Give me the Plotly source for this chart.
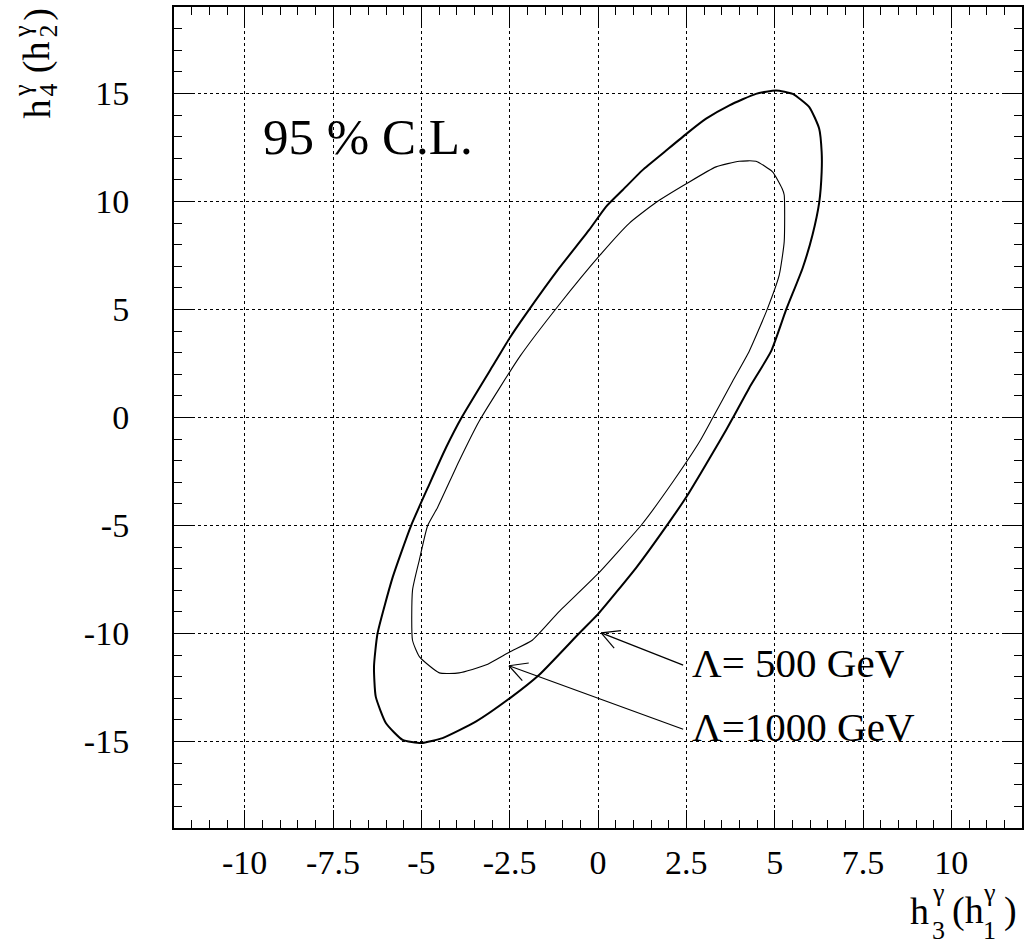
import numpy as np
import plotly.graph_objects as go

# ---------------- data ----------------
outer_x = [5.04, 4.47, 3.72, 3.06, 2.51, 1.88, 1.26, 0.70, 0.23, -0.25, -1.1, -2.05, -2.5, -2.9,
           -3.86, -4.30, -4.77, -5.29, -5.81, -6.24, -6.34, -6.29, -6.0, -5.53, -5.0, -4.4,
           -3.46, -2.5, -1.67, -0.54, 0.0, 1.1, 2.05, 2.5, 2.9, 3.45, 3.81, 4.28, 4.90,
           5.32, 5.79, 6.07, 6.26, 6.33, 6.33, 6.26, 5.98, 5.51, 5.04]
outer_y = [15.14, 14.98, 14.45, 13.83, 13.14, 12.29, 11.45, 10.53, 9.76, 8.68, 6.91, 4.76, 3.68, 2.6,
           0.0, -1.39, -3.08, -5.0, -7.39, -10.0, -11.54, -12.92, -14.15, -14.92, -15.07, -14.84,
           -14.08, -13.0, -11.92, -10.0, -9.1, -6.91, -4.76, -3.68, -2.6, -1.08, -0.04, 1.37, 3.07,
           4.97, 6.91, 8.45, 9.95, 11.37, 12.29, 13.37, 14.37, 14.98, 15.14]

inner_x = [4.47, 4.0, 3.34, 2.51, 1.64, 0.89, 0.1, -1.1, -2.2, -3.36, -3.93, -4.54,
           -4.82, -5.06, -5.25, -5.25, -5.05, -4.49, -3.93, -3.18, -2.5, -1.86, -1.11, 0.0,
           1.25, 2.14, 2.89, 3.24, 3.81, 4.28, 4.78, 5.13, 5.27, 5.27, 5.21, 4.94, 4.47]
inner_y = [11.86, 11.86, 11.6, 10.83, 9.95, 9.0, 7.6, 5.22, 2.85, -0.16, -2.01, -4.16,
           -5.0, -6.62, -8.0, -10.31, -11.08, -11.82, -11.82, -11.46, -10.85, -10.31, -9.0, -7.23,
           -4.93, -2.93, -1.08, -0.04, 1.68, 3.07, 4.97, 6.6, 8.14, 10.30, 10.6, 11.37, 11.86]

x_tickvals = [-10, -7.5, -5, -2.5, 0, 2.5, 5, 7.5, 10]
x_ticktext = ["-10", "-7.5", "-5", "-2.5", "0", "2.5", "5", "7.5", "10"]
y_tickvals = [-15, -10, -5, 0, 5, 10, 15]
y_ticktext = ["-15", "-10", "-5", "0", "5", "10", "15"]

cl_text = "95 % C.L."
cl_x, cl_y = -9.54, 12.98

label_text = ["Λ= 500 GeV", "Λ=1000 GeV"]
label_x = [2.6, 2.6]
label_y = [-11.37, -14.33]
arrow_tip_x = [0.09, -2.52]
arrow_tip_y = [-9.97, -11.49]
arrow_tail_x = [2.41, 2.41]
arrow_tail_y = [-11.46, -14.43]

# ---------------- layout geometry ----------------
W, H = 1029, 944
ML, MR, MT, MB = 174, 6, 5, 116
XR = [-12, 12]
YR = [-19, 19]
PW = W - ML - MR
PH = H - MT - MB
ppx = PW / (XR[1] - XR[0])
ppy = PH / (YR[1] - YR[0])

FONT = "Liberation Serif, Times New Roman, serif"

fig = go.Figure()
fig.add_trace(go.Scatter(x=outer_x, y=outer_y, mode="lines",
                         line=dict(color="black", width=2, shape="spline", smoothing=0.5),
                         hoverinfo="skip", showlegend=False))
fig.add_trace(go.Scatter(x=inner_x, y=inner_y, mode="lines",
                         line=dict(color="black", width=1.1, shape="spline", smoothing=0.5),
                         hoverinfo="skip", showlegend=False))

shapes = []
for tx, ty, sx, sy in zip(arrow_tip_x, arrow_tip_y, arrow_tail_x, arrow_tail_y):
    shapes.append(dict(type="line", xref="x", yref="y", x0=tx, y0=ty, x1=sx, y1=sy,
                       line=dict(color="black", width=1.2)))
    # V head computed in pixel space
    dxp = (sx - tx) * ppx
    dyp = (sy - ty) * ppy
    ang = np.arctan2(dyp, dxp)
    for s in (+1, -1):
        a = ang + s * np.radians(28)
        ex = tx + 20 * np.cos(a) / ppx
        ey = ty + 20 * np.sin(a) / ppy
        shapes.append(dict(type="line", xref="x", yref="y", x0=tx, y0=ty, x1=ex, y1=ey,
                           line=dict(color="black", width=1.2)))

annotations = [dict(x=cl_x, y=cl_y, xref="x", yref="y", text=cl_text, showarrow=False,
                    xanchor="left", yanchor="middle", font=dict(family=FONT, size=51, color="black"))]
for t, lx, ly in zip(label_text, label_x, label_y):
    annotations.append(dict(x=lx, y=ly, xref="x", yref="y", text=t, showarrow=False,
                            xanchor="left", yanchor="middle",
                            font=dict(family=FONT, size=41, color="black")))


def pxx(p):
    return (p - ML) / PW


def pxy(p):
    return (H - MB - p) / PH


def piece(text, cx, cy, size, angle=0):
    annotations.append(dict(x=pxx(cx), y=pxy(cy), xref="paper", yref="paper", text=text,
                            showarrow=False, xanchor="center", yanchor="middle",
                            textangle=angle, font=dict(family=FONT, size=size, color="black")))


# x axis title  h_3^γ (h_1^γ)
piece("h", 920.8, 911, 38)
piece("3", 939, 931, 26)
piece("γ", 939, 893, 26)
piece("(h", 969, 911, 38)
piece("1", 990.5, 931, 26)
piece("γ", 990.5, 893, 26)
piece(")", 1011, 911, 38)

# y axis title  h_4^γ (h_2^γ)  rotated
piece("h", 37.2, 107.5, 38, -90)
piece("4", 48, 88.5, 26, -90)
piece("γ", 22.5, 88.5, 26, -90)
piece("(h", 37.2, 55, 38, -90)
piece("2", 48, 29.5, 26, -90)
piece("γ", 22.5, 29.5, 26, -90)
piece(")", 37.2, 12.5, 38, -90)

axis_common = dict(showline=True, linewidth=2, linecolor="black", mirror="ticks",
                   ticks="inside", tickwidth=1.2, tickcolor="black", ticklen=18,
                   showgrid=True, gridcolor="black", griddash="dot", gridwidth=1,
                   zeroline=False, tickfont=dict(family=FONT, size=34, color="black"))

fig.update_layout(
    width=W, height=H,
    margin=dict(l=ML, r=MR, t=MT, b=MB, pad=0),
    paper_bgcolor="white", plot_bgcolor="white",
    xaxis=dict(range=XR, tickmode="array", tickvals=x_tickvals, ticktext=x_ticktext,
               ticklabelstandoff=3,
               minor=dict(dtick=0.5, tick0=0, ticks="inside", ticklen=8, tickwidth=1.2,
                          tickcolor="black", showgrid=False),
               **axis_common),
    yaxis=dict(range=YR, tickmode="array", tickvals=y_tickvals, ticktext=y_ticktext,
               ticklabelstandoff=36,
               minor=dict(dtick=1, tick0=0, ticks="inside", ticklen=8, tickwidth=1.2,
                          tickcolor="black", showgrid=False),
               **axis_common),
    shapes=shapes,
    annotations=annotations,
    showlegend=False,
)

fig.write_html("out.html", config={"displayModeBar": False},
               post_script="document.body.style.margin='0';")
